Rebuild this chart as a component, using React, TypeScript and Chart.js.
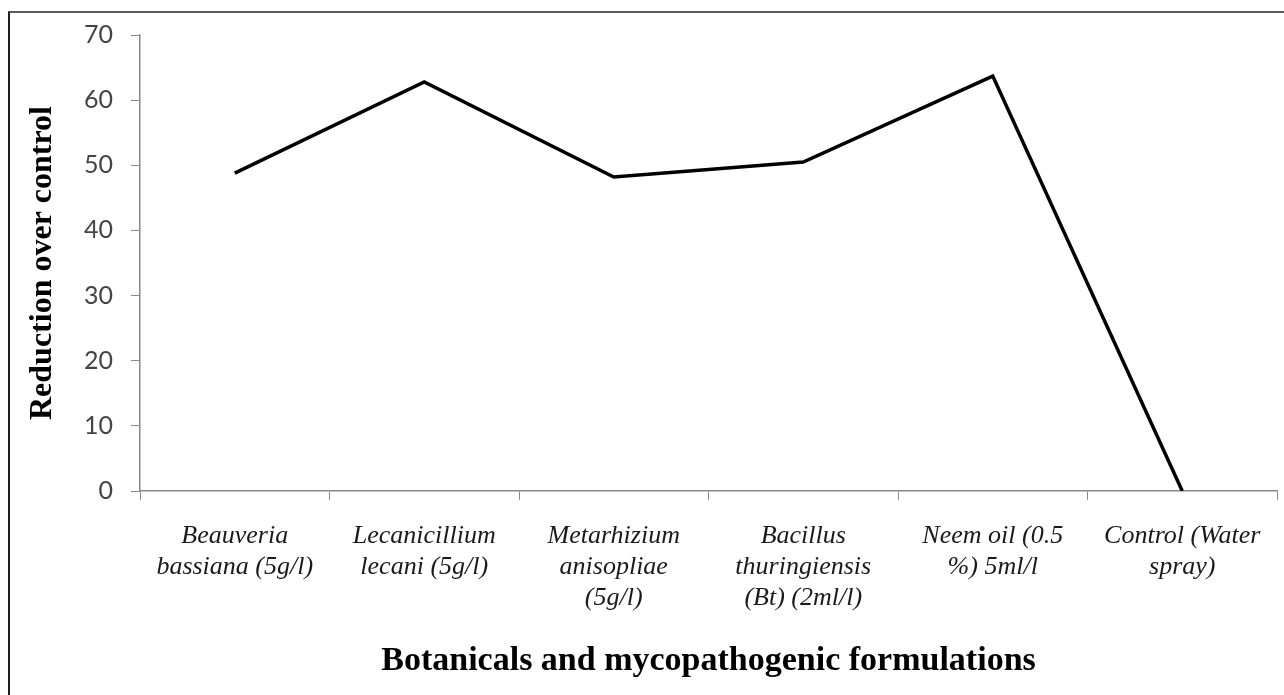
import React, { useEffect, useRef } from "react";
import { Chart, registerables } from "chart.js";

Chart.register(...registerables);

const categories: string[][] = [
  ["Beauveria", "bassiana (5g/l)"],
  ["Lecanicillium", "lecani (5g/l)"],
  ["Metarhizium", "anisopliae", "(5g/l)"],
  ["Bacillus", "thuringiensis", "(Bt) (2ml/l)"],
  ["Neem oil (0.5", "%) 5ml/l"],
  ["Control (Water", "spray)"],
];

const reductionValues: number[] = [48.8, 62.8, 48.2, 50.5, 63.7, 0];

const yTicks: number[] = [0, 10, 20, 30, 40, 50, 60, 70];

const xTitle = "Botanicals and mycopathogenic formulations";
const yTitle = "Reduction over control";

export default function App() {
  const canvasRef = useRef<HTMLCanvasElement | null>(null);

  useEffect(() => {
    const canvas = canvasRef.current;
    if (!canvas) return;
    const axisColor = "#8a8a8a";
    const chart = new Chart(canvas, {
      type: "line",
      data: {
        labels: categories,
        datasets: [
          {
            label: yTitle,
            data: reductionValues,
            borderColor: "#000000",
            borderWidth: 3.5,
            pointRadius: 0,
            pointHoverRadius: 0,
            tension: 0,
            fill: false,
          },
        ],
      },
      options: {
        responsive: false,
        animation: false,
        devicePixelRatio: 1,
        layout: { padding: { left: 10, top: 35, right: 7, bottom: 0 } },
        plugins: {
          legend: { display: false },
          tooltip: { enabled: false },
          title: { display: false },
        },
        scales: {
          x: {
            type: "category",
            offset: true,
            grid: {
              offset: true,
              drawOnChartArea: false,
              drawTicks: true,
              tickLength: 9,
              color: axisColor,
              lineWidth: 1,
            },
            border: { display: true, color: axisColor, width: 1.5 },
            ticks: {
              color: "#1a1a1a",
              padding: 21,
              maxRotation: 0,
              minRotation: 0,
              autoSkip: false,
              font: {
                family: "'Liberation Serif', 'Times New Roman', serif",
                style: "italic",
                size: 26,
                lineHeight: "31px",
              },
            },
            title: {
              display: true,
              text: xTitle,
              color: "#000000",
              padding: { top: 0, bottom: 13 },
              font: {
                family: "'Liberation Serif', 'Times New Roman', serif",
                weight: "bold",
                size: 34,
                lineHeight: 1.2,
              },
            },
            afterFit: (scale: any) => {
              scale.height = 204;
            },
          },
          y: {
            type: "linear",
            min: 0,
            max: 70,
            afterBuildTicks: (scale: any) => {
              scale.ticks = yTicks.map((v) => ({ value: v }));
            },
            grid: {
              drawOnChartArea: false,
              drawTicks: true,
              tickLength: 9,
              color: axisColor,
              lineWidth: 1,
            },
            border: { display: true, color: axisColor, width: 1.5 },
            ticks: {
              color: "#444444",
              padding: 18,
              font: { family: "Lato, 'Open Sans', sans-serif", size: 25 },
            },
            title: {
              display: true,
              text: yTitle,
              color: "#000000",
              padding: { top: 14, bottom: 0 },
              font: {
                family: "'Liberation Serif', 'Times New Roman', serif",
                weight: "bold",
                size: 32,
                lineHeight: 1.2,
              },
            },
            afterFit: (scale: any) => {
              scale.width = 130;
            },
          },
        },
      },
    });
    return () => {
      chart.destroy();
    };
  }, []);

  return (
    <div
      style={{
        position: "fixed",
        left: 0,
        top: 0,
        width: 1284,
        height: 695,
        background: "#ffffff",
        overflow: "hidden",
      }}
    >
      <div
        style={{
          position: "absolute",
          left: 8,
          top: 11,
          right: -4,
          bottom: -4,
          borderLeft: "2px solid #1e1e1e",
          borderTop: "2px solid #5a5a5a",
        }}
      />
      <canvas
        ref={canvasRef}
        width={1284}
        height={695}
        style={{ position: "absolute", left: 0, top: 0, width: 1284, height: 695 }}
      />
    </div>
  );
}
